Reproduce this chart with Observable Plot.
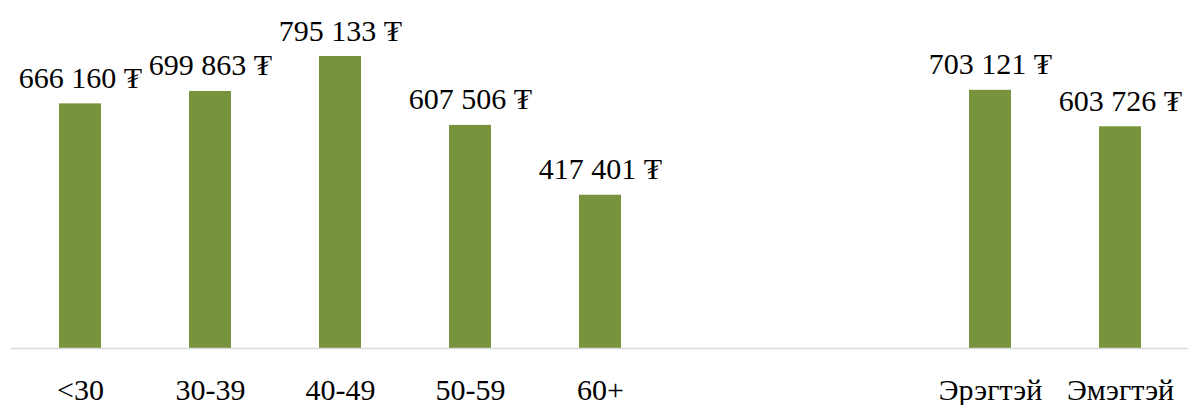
<!DOCTYPE html>
<html>
<head>
<meta charset="utf-8">
<script src="https://cdn.jsdelivr.net/npm/d3@7"></script>
<script src="https://cdn.jsdelivr.net/npm/@observablehq/plot@0.6"></script>
<style>
  html, body { margin: 0; padding: 0; background: #fff; }
  #chart svg { display: block; }
</style>
</head>
<body>
<div id="chart"></div>
<script>
const categories = ["<30", "30-39", "40-49", "50-59", "60+", "Эрэгтэй", "Эмэгтэй"];
const values = [666160, 699863, 795133, 607506, 417401, 703121, 603726];
const gapSlots = ["gap1", "gap2"];
const xDomain = [...categories.slice(0, 5), ...gapSlots, ...categories.slice(5)];

const data = categories.map((c, i) => ({category: c, value: values[i]}));
const fmt = v => d3.format(",")(v).replace(/,/g, "\u00a0") + "\u00a0₮";

const chart = Plot.plot({
  width: 1194,
  height: 405,
  marginLeft: 10.6,
  marginRight: 5.6,
  marginTop: 17.5,
  marginBottom: 57,
  style: {fontFamily: "Liberation Serif", fontSize: "30px", background: "#fff"},
  x: {domain: xDomain, paddingInner: 0.68, paddingOuter: 0.34, label: null},
  y: {domain: [0, 900000], axis: null},
  marks: [
    Plot.barY(data, {x: "category", y: "value", fill: "#77933c"}),
    Plot.ruleY([0], {stroke: "#d9d9d9", strokeWidth: 1.3}),
    Plot.text(data, {x: "category", y: "value", text: d => fmt(d.value), lineAnchor: "bottom", dy: -16, fill: "#000", fontSize: 30, fontFamily: "Liberation Serif"}),
    Plot.axisX({ticks: categories, tickSize: 0, tickPadding: 30, fontSize: 30, fontFamily: "Liberation Serif", label: null})
  ]
});
document.getElementById("chart").appendChild(chart);
</script>
</body>
</html>
